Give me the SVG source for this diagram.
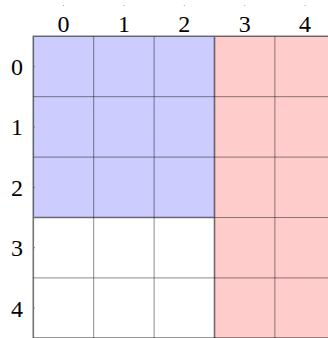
<svg xmlns="http://www.w3.org/2000/svg" width="328" height="338" viewBox="0 0 328 338">
<style>
text{font-family:'Liberation Serif','Times New Roman',serif;font-size:24px;fill:#000;text-anchor:middle}
.g{stroke:#000;stroke-opacity:0.45;stroke-width:1;fill:none}
.t{stroke:#000;stroke-opacity:0.55;stroke-width:1.6;fill:none}
.dot{fill:#000;fill-opacity:0.4}
</style>
<rect width="328" height="338" fill="#fff"/>
<g id="blue-region"><rect x="33.3" y="36.3" width="181.2" height="181.2" fill="#ccccff"/></g>
<g id="red-region"><rect x="214.5" y="36.3" width="120.8" height="302" fill="#ffcccc"/></g>
<g id="grid">
<path class="g" d="M93.7 36.3V338.3M154.1 36.3V338.3M274.9 36.3V338.3M33.3 96.7H335M33.3 157.1H335M33.3 277.9H335M33.3 337.6H335"/>
<path class="t" d="M33.3 338V36.3H335M214.5 36.3V338M33.3 217.5H214.5"/>
<path class="g" d="M214.5 217.5H335"/>
</g>
<g id="col-labels">
<text x="63.5" y="31.5">0</text>
<text x="123.9" y="31.5">1</text>
<text x="184.3" y="31.5">2</text>
<text x="244.7" y="31.5">3</text>
<text x="305.1" y="31.5">4</text>
</g>
<g id="row-labels">
<text x="17" y="75">0</text>
<text x="17" y="135.4">1</text>
<text x="17" y="195.8">2</text>
<text x="17" y="256.2">3</text>
<text x="17" y="316.6">4</text>
</g>
<g id="ticks">
<circle class="dot" cx="63.5" cy="5.5" r="0.6"/>
<circle class="dot" cx="123.9" cy="5.5" r="0.6"/>
<circle class="dot" cx="184.3" cy="5.5" r="0.6"/>
<circle class="dot" cx="244.7" cy="5.5" r="0.6"/>
<circle class="dot" cx="305.1" cy="5.5" r="0.6"/>
<circle class="dot" cx="34.5" cy="66.5" r="0.6"/>
<circle class="dot" cx="34.5" cy="126.9" r="0.6"/>
<circle class="dot" cx="34.5" cy="187.3" r="0.6"/>
<circle class="dot" cx="34.5" cy="247.7" r="0.6"/>
<circle class="dot" cx="34.5" cy="308.1" r="0.6"/>
</g>
</svg>
